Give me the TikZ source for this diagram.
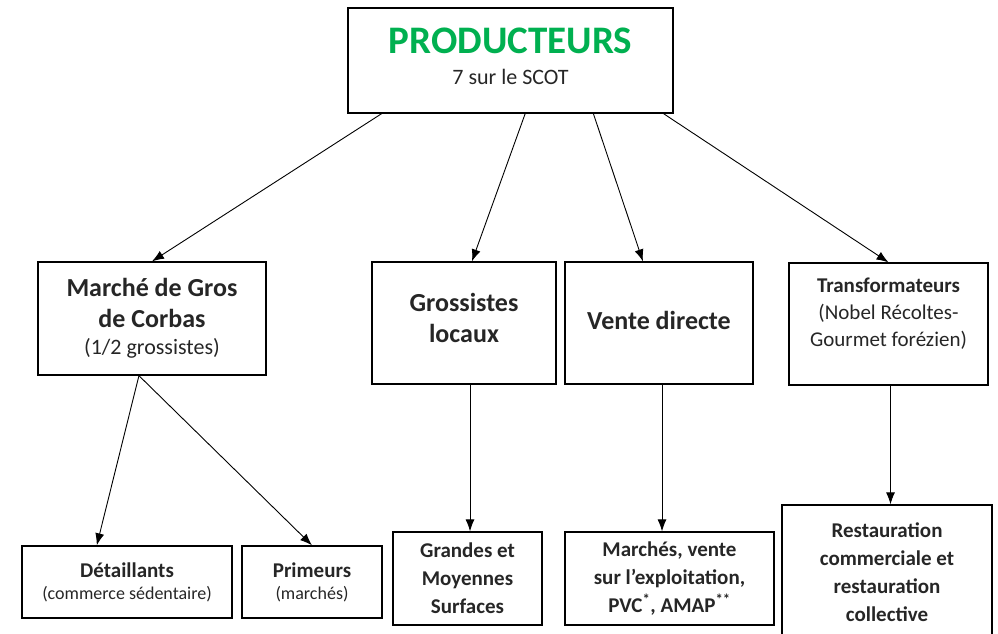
\documentclass[tikz,border=0pt]{standalone}
\usepackage{fontspec}
\setmainfont{Carlito}
\usepackage{xcolor}
\usetikzlibrary{arrows.meta,calc}
\definecolor{prodgreen}{RGB}{0,176,80}
\newcommand{\titre}{\fontsize{26}{31}\bfseries\selectfont}
\newcommand{\moyen}{\fontsize{21}{28}\bfseries\selectfont}
\newcommand{\sous}{\fontsize{21}{27}\selectfont}
\newcommand{\petit}{\fontsize{18}{22}\selectfont}

\begin{document}
\begin{tikzpicture}[x=1pt,y=-1pt,>={Latex[length=12pt,width=9pt]},
	box/.style={draw, line width=1.3pt, align=center, inner sep=0pt, text=black!85},
	fleche/.style={->, line width=0.9pt}]
	\useasboundingbox (0,0) rectangle (998,633);
	\clip (0,0) rectangle (998,633);
	%% ========================================================
	\node[box, minimum width=325, minimum height=105, font=\fontsize{22}{31}\selectfont] (prod) at (510.5,60.5)
		{{\color{prodgreen}\fontsize{39}{44}\bfseries\selectfont PRODUCTEURS}\\7 sur le SCOT\\[-23pt]};

	\node[box, minimum width=228, minimum height=113, font=\titre] (marche) at (152,318.5)
		{Marché de Gros\\de Corbas\\[-4pt]{\mdseries\fontsize{22}{27}\selectfont (1/2 grossistes)}};
	\node[box, minimum width=184, minimum height=122, font=\titre] (gros) at (464,323)
		{Grossistes\\locaux\\[-20pt]};
	\node[box, minimum width=188, minimum height=122, font=\titre] (vd) at (659,323)
		{Vente directe\\[-25pt]};
	\node[box, minimum width=199, minimum height=122, font=\sous] (transfo) at (888.5,324)
		{\textbf{Transformateurs}\\(Nobel Récoltes-\\Gourmet forézien)\\[-4pt]};
	%% ========================================================

	%% ========================================================
	\node[box, minimum width=210, minimum height=72, font=\fontsize{21}{22}\bfseries\selectfont] (detail) at (127,582)
		{Détaillants\\{\mdseries\petit (commerce sédentaire)}};
	\node[box, minimum width=140, minimum height=72, font=\fontsize{21}{22}\bfseries\selectfont] (prim) at (312,582)
		{Primeurs\\{\mdseries\petit (marchés)}};
	\node[box, minimum width=149, minimum height=93, font=\moyen] (gms) at (467.5,578.5)
		{Grandes et\\Moyennes\\Surfaces};
	\node[box, minimum width=209, minimum height=93, font=\moyen] (marches) at (669.5,578.5)
		{Marchés, vente\\sur l’exploitation,\\PVC\textsuperscript{*}, AMAP\textsuperscript{**}};
	\node[box, minimum width=210, minimum height=134, font=\moyen] (resto) at (887,572)
		{Restauration\\commerciale et\\restauration\\collective};
	%% ========================================================

	\draw[fleche] ($(prod.south west)!0.105!(prod.south east)$) -- (marche.north);
	\draw[fleche] ($(prod.south west)!0.545!(prod.south east)$) -- ($(gros.north west)!0.543!(gros.north east)$);
	\draw[fleche] ($(prod.south west)!0.754!(prod.south east)$) -- ($(vd.north west)!0.415!(vd.north east)$);
	\draw[fleche] ($(prod.south west)!0.969!(prod.south east)$) -- (transfo.north);

	\coordinate (mbas) at ($(marche.south west)!0.443!(marche.south east)$);
	\draw[fleche] (mbas) -- ($(detail.north west)!0.357!(detail.north east)$);
	\draw[fleche] (mbas) -- (prim.north);

	\draw[fleche] ([xshift=6pt]gros.south) -- ([xshift=6pt]gros.south |- gms.north);
	\draw[fleche] ([xshift=3pt]vd.south) -- ([xshift=3pt]vd.south |- marches.north);
	\draw[fleche] ([xshift=2pt]transfo.south) -- ([xshift=2pt]transfo.south |- resto.north);
\end{tikzpicture}
\end{document}
